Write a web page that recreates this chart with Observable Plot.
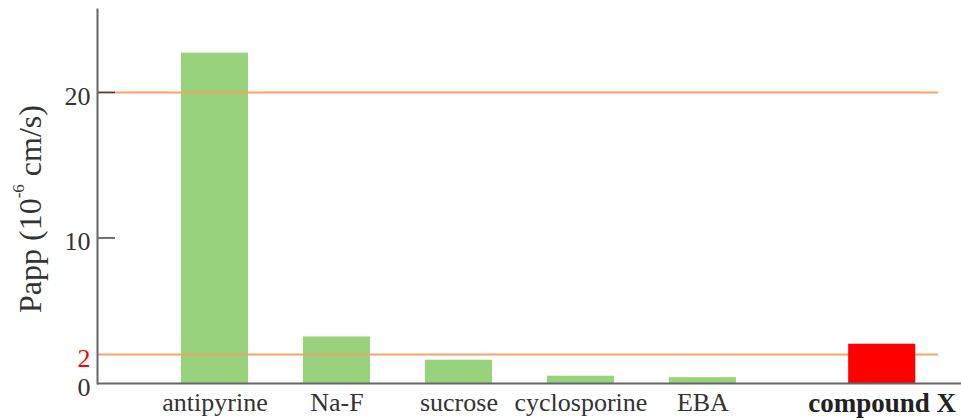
<!DOCTYPE html>
<html><head><meta charset="utf-8">
<script src="https://cdn.jsdelivr.net/npm/d3@7"></script>
<script src="https://cdn.jsdelivr.net/npm/@observablehq/plot@0.6"></script>
<style>
body{margin:0;background:#fff}
#chart{width:961px;height:420px}
#chart svg, #chart svg text, #chart svg tspan { font-family: "Liberation Serif", "DejaVu Serif", serif !important; }
</style>
</head><body><div id="chart"></div>
<script>
// ---- data ----
const categories = ["antipyrine", "Na-F", "sucrose", "cyclosporine", "EBA", "compound X"];
const papp = [22.7, 3.2, 1.6, 0.5, 0.4, 2.7];
const groups = ["reference", "reference", "reference", "reference", "reference", "test"];
const yTicks = [0, 2, 10, 20];
const yMajorTicks = [10, 20];
const thresholds = [2, 20];
const highlightTick = 2;

// ---- build table ----
const groupOrder = ["reference", "test"];
const groupGap = 0.47;
const data = categories.map((name, i) => ({
  name, value: papp[i], group: groups[i],
  slot: i + groupGap * groupOrder.indexOf(groups[i])
}));
const nameOf = new Map(data.map(d => [d.slot, d.name]));
const refSlots = data.filter(d => d.group === "reference").map(d => d.slot);
const testSlots = data.filter(d => d.group === "test").map(d => d.slot);
const half = 0.275;
const xDomain = [-0.963, 6.12];

const chart = Plot.plot({
  width: 961, height: 420,
  marginLeft: 97, marginRight: 0, marginTop: 9, marginBottom: 37,
  style: {background: "#fff", color: "#333"},
  x: {domain: xDomain, axis: null},
  y: {domain: [0, 25.7], axis: null},
  marks: [
    Plot.rectY(data.filter(d => d.group === "reference"), {x1: d => d.slot - half, x2: d => d.slot + half, y: "value", fill: "#98d27c"}),
    Plot.ruleY(thresholds, {stroke: "#f5a468", strokeWidth: 2, insetRight: 23}),
    Plot.rectY(data.filter(d => d.group === "test"), {x1: d => d.slot - half, x2: d => d.slot + half, y: "value", fill: "#ff0000"}),
    Plot.axisY({ticks: yMajorTicks, tickSize: -18, text: null, label: null, stroke: "#444", strokeWidth: 1.5}),
    Plot.axisY({ticks: yTicks.filter(t => t !== highlightTick), tickSize: 0, tickPadding: 7, fontSize: 26, fill: "#333", dy: 4, label: null}),
    Plot.axisY({ticks: [highlightTick], tickSize: 0, tickPadding: 7, fontSize: 26, fill: "#ff0000", dy: 4, label: null}),
    Plot.axisX({ticks: refSlots, tickFormat: s => nameOf.get(s), tickSize: 0, tickPadding: 9, fontSize: 26, fill: "#333", label: null}),
    Plot.axisX({ticks: testSlots, tickFormat: s => nameOf.get(s), tickSize: 0, tickPadding: 9, fontSize: 27, fill: "#222", fontWeight: "bold", label: null}),
    Plot.ruleY([0], {stroke: "#666", strokeWidth: 2}),
    Plot.frame({anchor: "left", stroke: "#666", strokeWidth: 2})
  ]
});
document.getElementById("chart").appendChild(chart);

// y-axis title with superscript
const svg = d3.select(chart);
const t = svg.append("text")
  .attr("transform", "translate(30,209) rotate(-90)")
  .attr("text-anchor", "middle")
  .attr("dominant-baseline", "central")
  .attr("font-size", 32)
  .attr("fill", "#333");
t.append("tspan").text("Papp (10");
t.append("tspan").attr("font-size", 17).attr("dy", -12).text("-6");
t.append("tspan").attr("dy", 12).text(" cm/s)");
</script>
</body></html>
